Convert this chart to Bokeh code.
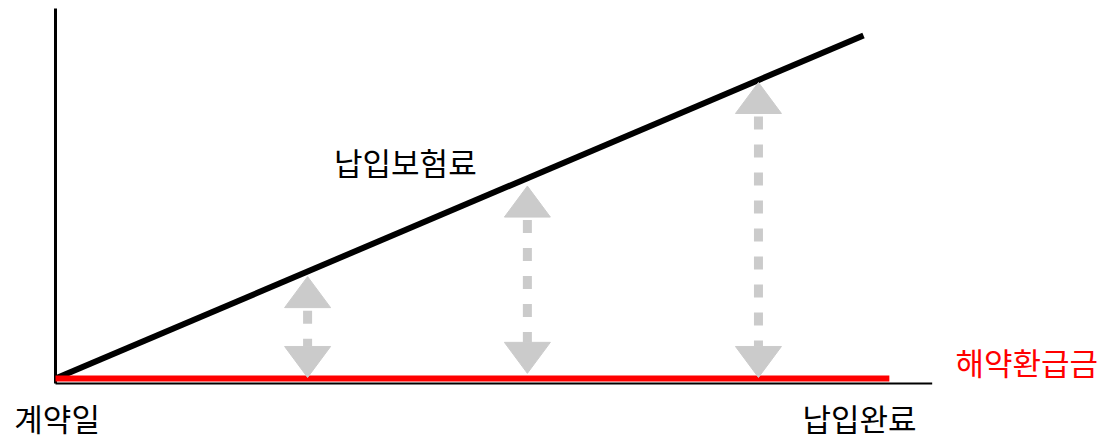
from bokeh.plotting import figure
from bokeh.models import Range1d
from bokeh.core.properties import value
from bokeh.embed import file_html
from bokeh.resources import INLINE

# ---- data ----
premium_t = [0, 10]            # 납입보험료 line (time)
premium_v = [0, 100]           # 납입보험료 amount
refund_t = [0, 10.32]          # 해약환급금 line
refund_v = [0, 0]
axis_x_end = 10.85
axis_y_top = 107.9
axis_base = -1.46

arrow_t = [3.12, 5.84, 8.70]
arrow_top = [29.7, 56.1, 86.3]
arrow_bottom = [0.3, 1.5, 0.3]

label_texts = ["납입보험료", "계약일", "납입완료"]
label_t = [4.33, 0.02, 9.95]
label_v = [63.2, -11.5, -11.3]
refund_label = "해약환급금"
refund_label_t = 12.02
refund_label_v = 5.0

# ---- scales ----
W, H = 1104, 439
px_per_t = 80.8
px_per_v = 3.43
x0 = -55 / px_per_t
y1 = 378 / px_per_v
p = figure(width=W, height=H, output_backend="svg", toolbar_location=None,
           x_range=Range1d(x0, x0 + W / px_per_t),
           y_range=Range1d(y1 - H / px_per_v, y1),
           min_border=0, outline_line_color=None)
p.xaxis.visible = False
p.yaxis.visible = False
p.grid.visible = False
p.background_fill_color = "white"
p.border_fill_color = "white"

# axes lines
p.segment(x0=[0], y0=[axis_base], x1=[0], y1=[axis_y_top], line_color="black", line_width=3)
p.segment(x0=[0], y0=[axis_base], x1=[axis_x_end], y1=[axis_base], line_color="black", line_width=2)

# series
p.line(premium_t, premium_v, line_color="black", line_width=6)
p.line(refund_t, refund_v, line_color="#ff0000", line_width=6)

# arrows
gray = "#cbcbcb"
head_h = 31 / px_per_v
head_hw = 23 / px_per_t
gap = 3 / px_per_v
xs, ys = [], []
for t, top, bot in zip(arrow_t, arrow_top, arrow_bottom):
    xs.append([t - head_hw, t, t + head_hw])
    ys.append([top - head_h, top, top - head_h])
    xs.append([t - head_hw, t, t + head_hw])
    ys.append([bot + head_h, bot, bot + head_h])
p.patches(xs, ys, fill_color=gray, line_color=gray, line_width=1)
p.segment(x0=arrow_t, y0=[v - head_h - gap for v in arrow_top],
          x1=arrow_t, y1=[v + head_h for v in arrow_bottom],
          line_color=gray, line_width=9, line_dash="13 15", line_cap="butt")

# labels
font = value("Noto Sans CJK KR")
p.text(x=label_t, y=label_v, text=label_texts, text_font=font, text_font_size="31px",
       text_color="black", text_align="center", text_baseline="middle")
p.text(x=[refund_label_t], y=[refund_label_v], text=[refund_label], text_font=font,
       text_font_size="31px", text_color="#ff0000", text_align="center", text_baseline="middle")

open("out.html", "w").write(file_html(p, INLINE))
